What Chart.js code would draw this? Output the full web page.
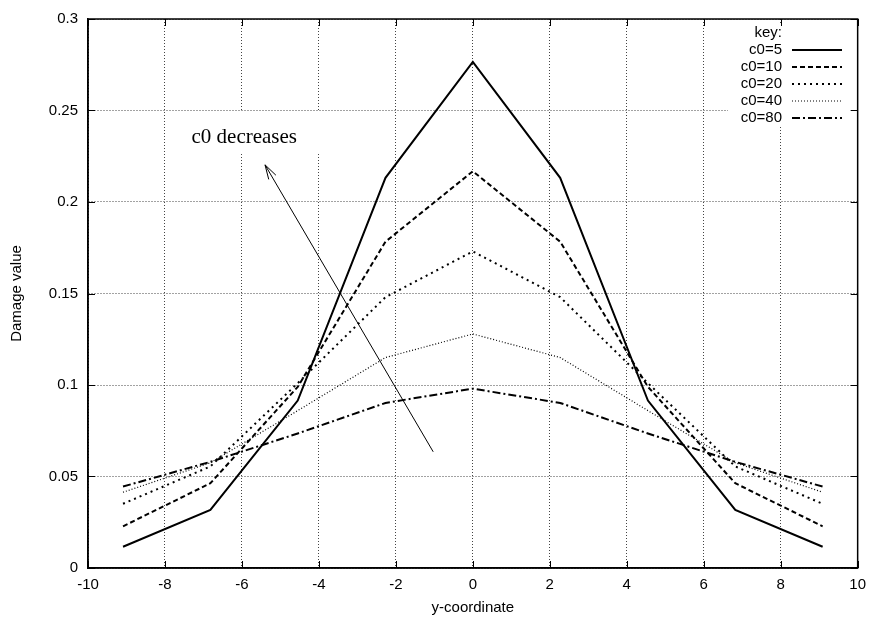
<!DOCTYPE html>
<html>
<head>
<meta charset="utf-8">
<script src="https://cdn.jsdelivr.net/npm/chart.js@4/dist/chart.umd.min.js"></script>
<style>
  html, body { margin: 0; padding: 0; background: #fff; }
  #wrap { width: 874px; height: 623px; }
</style>
</head>
<body>
<div id="wrap"><canvas id="chart" width="874" height="623"></canvas></div>
<script>
// damage profile across the section, one curve per c0
const yCoord = [-9.09, -6.82, -4.55, -2.27, 0, 2.27, 4.55, 6.82, 9.09];
const c0_5  = [0.0116, 0.0318, 0.0915, 0.2132, 0.2765, 0.2132, 0.0915, 0.0318, 0.0116];
const c0_10 = [0.0228, 0.0463, 0.0990, 0.1783, 0.2168, 0.1783, 0.0990, 0.0463, 0.0228];
const c0_20 = [0.0351, 0.0555, 0.1010, 0.1480, 0.1730, 0.1480, 0.1010, 0.0555, 0.0351];
const c0_40 = [0.0414, 0.0575, 0.0860, 0.1150, 0.1279, 0.1150, 0.0860, 0.0575, 0.0414];
const c0_80 = [0.0445, 0.0580, 0.0735, 0.0902, 0.0980, 0.0902, 0.0735, 0.0580, 0.0445];
const seriesLabels = ["c0=5", "c0=10", "c0=20", "c0=40", "c0=80"];

const xTicks = [-10, -8, -6, -4, -2, 0, 2, 4, 6, 8, 10];
const yTicks = [0, 0.05, 0.1, 0.15, 0.2, 0.25, 0.3];
const yTickLabels = ["0", "0.05", "0.1", "0.15", "0.2", "0.25", "0.3"];

// arrow from (x0,y0) to the tip (x1,y1), in data units
const arrowFrom = [-1.03, 0.0635];
const arrowTo = [-5.4, 0.2203];
const noteText = "c0 decreases";
const notePos = [-7.31, 0.235];

const styles = [
  { width: 2, dash: [] },
  { width: 2, dash: [5, 3] },
  { width: 2, dash: [2, 4] },
  { width: 1.2, dash: [1, 2] },
  { width: 2, dash: [8, 3, 2, 3] },
];

const series = [c0_5, c0_10, c0_20, c0_40, c0_80];
const datasets = series.map((vals, i) => ({
  label: seriesLabels[i],
  data: vals.map((v, k) => ({ x: yCoord[k], y: v })),
  borderColor: "#000",
  borderWidth: styles[i].width,
  borderDash: styles[i].dash,
  pointRadius: 0,
  tension: 0,
  fill: false,
}));

const SANS = "'Liberation Sans', Arial, sans-serif";

const overlay = {
  id: "overlay",
  beforeDatasetsDraw(chart) {
    const ctx = chart.ctx;
    ctx.save();
    ctx.fillStyle = "#fff";
    // blank out grid behind the key and the note
    ctx.fillRect(728, 23, 124, 102);
    ctx.fillRect(176, 112, 154, 42);
    ctx.restore();
  },
  afterDatasetsDraw(chart) {
    const { ctx, chartArea: a, scales } = chart;
    const sx = scales.x, sy = scales.y;
    ctx.save();
    ctx.strokeStyle = "#000";
    ctx.lineWidth = 1.5;
    ctx.setLineDash([]);
    ctx.strokeRect(a.left, a.top, a.right - a.left, a.bottom - a.top);

    // inward tick marks on all four sides
    ctx.lineWidth = 1;
    ctx.beginPath();
    xTicks.forEach(t => {
      const px = Math.round(sx.getPixelForValue(t)) + 0.5;
      ctx.moveTo(px, a.bottom); ctx.lineTo(px, a.bottom - 7);
      ctx.moveTo(px, a.top); ctx.lineTo(px, a.top + 7);
    });
    yTicks.forEach(t => {
      const py = Math.round(sy.getPixelForValue(t)) + 0.5;
      ctx.moveTo(a.left, py); ctx.lineTo(a.left + 7, py);
      ctx.moveTo(a.right, py); ctx.lineTo(a.right - 7, py);
    });
    ctx.stroke();

    // key
    ctx.font = "15px " + SANS;
    ctx.fillStyle = "#000";
    ctx.textAlign = "right";
    ctx.textBaseline = "middle";
    ctx.fillText("key:", 782, 33);
    chart.data.datasets.forEach((ds, i) => {
      const y = 50 + i * 17;
      ctx.fillText(ds.label, 782, y);
      ctx.beginPath();
      ctx.lineWidth = ds.borderWidth;
      ctx.setLineDash(ds.borderDash);
      ctx.moveTo(792, y);
      ctx.lineTo(842, y);
      ctx.stroke();
    });

    // arrow and note
    const x0 = sx.getPixelForValue(arrowFrom[0]), y0 = sy.getPixelForValue(arrowFrom[1]);
    const x1 = sx.getPixelForValue(arrowTo[0]), y1 = sy.getPixelForValue(arrowTo[1]);
    ctx.setLineDash([]);
    ctx.lineWidth = 1;
    ctx.beginPath();
    ctx.moveTo(x0, y0);
    ctx.lineTo(x1, y1);
    const ang = Math.atan2(y0 - y1, x0 - x1);
    const len = 15, spread = 0.28;
    ctx.moveTo(x1 + len * Math.cos(ang - spread), y1 + len * Math.sin(ang - spread));
    ctx.lineTo(x1, y1);
    ctx.lineTo(x1 + len * Math.cos(ang + spread), y1 + len * Math.sin(ang + spread));
    ctx.stroke();

    ctx.font = "21px 'Liberation Serif', 'Times New Roman', serif";
    ctx.textAlign = "left";
    ctx.fillText(noteText, sx.getPixelForValue(notePos[0]), sy.getPixelForValue(notePos[1]));
    ctx.restore();
  },
};

new Chart("chart", {
  type: "line",
  data: { datasets: datasets },
  plugins: [overlay],
  options: {
    responsive: false,
    animation: false,
    layout: { padding: { top: 15, right: 12, left: 0, bottom: 0 } },
    plugins: {
      legend: { display: false },
      tooltip: { enabled: false },
    },
    scales: {
      x: {
        type: "linear",
        min: -10,
        max: 10,
        afterBuildTicks: s => { s.ticks = xTicks.map(v => ({ value: v })); },
        afterFit: s => { s.height = 55; },
        ticks: {
          color: "#000",
          font: { family: SANS, size: 15 },
          padding: 8,
          maxRotation: 0,
          callback: v => String(v),
        },
        grid: { color: "#444", lineWidth: 1, drawTicks: false },
        border: { color: "#000", width: 1.5, dash: [1, 2] },
        title: {
          display: true,
          text: "y-coordinate",
          color: "#000",
          font: { family: SANS, size: 15 },
          padding: { top: 0, bottom: 6 },
        },
      },
      y: {
        min: 0,
        max: 0.3,
        afterBuildTicks: s => { s.ticks = yTicks.map(v => ({ value: v })); },
        afterFit: s => { s.width = 88; },
        ticks: {
          color: "#000",
          font: { family: SANS, size: 15 },
          padding: 10,
          callback: (v, i) => yTickLabels[yTicks.indexOf(v)] ?? String(v),
        },
        grid: { color: "#444", lineWidth: 1, drawTicks: false },
        border: { color: "#000", width: 1.5, dash: [1, 2] },
        title: {
          display: true,
          text: "Damage value",
          color: "#000",
          font: { family: SANS, size: 15 },
          padding: { top: 8, bottom: 0 },
        },
      },
    },
  },
});
</script>
</body>
</html>
